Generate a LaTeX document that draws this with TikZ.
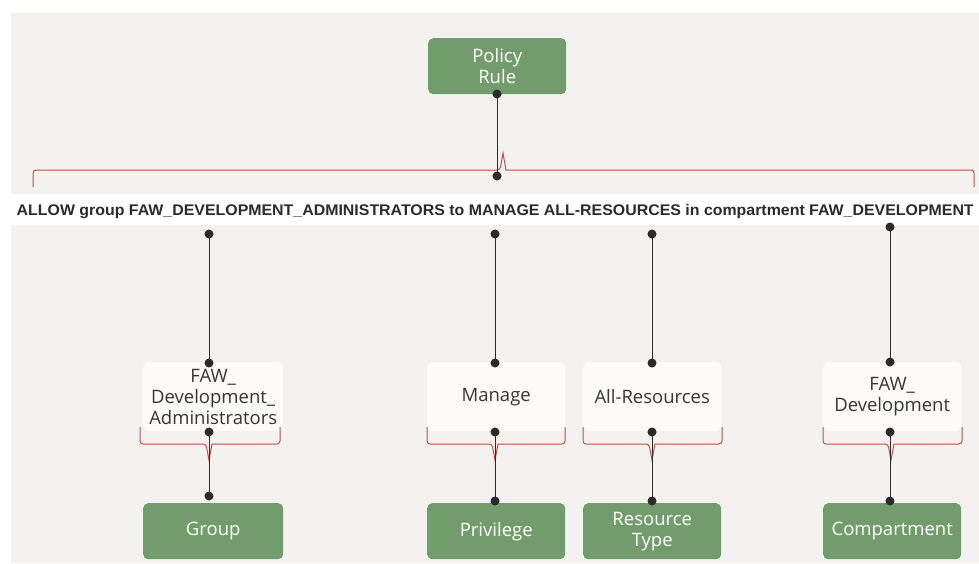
\documentclass[tikz,border=0pt]{standalone}
\usepackage{fontspec}
\setmainfont{Open Sans}
\newfontfamily\bannerfont{Liberation Sans}
\usepackage{graphicx}
\definecolor{bg}{HTML}{F3F2F0}
\definecolor{grn}{HTML}{739C6C}
\definecolor{brc}{HTML}{C0503F}
\definecolor{ink}{HTML}{2B2B2B}
\definecolor{cardtext}{HTML}{363636}
\definecolor{card}{HTML}{FCFBFA}
\begin{document}
\begin{tikzpicture}[x=1pt,y=-1pt,
  greenbox/.style={fill=grn, rounded corners=5pt, text=white, minimum height=56pt,
    align=center, font=\fontsize{18.5}{21}\selectfont, inner sep=0pt, anchor=north west},
  cardbox/.style={fill=card, rounded corners=6pt, text=cardtext, minimum height=69pt,
    align=center, font=\fontsize{18.5}{21}\selectfont, inner sep=0pt, anchor=north west},
  conn/.style={draw=ink, line width=1pt},
  dot/.style={fill=ink},
  brace/.style={draw=brc, line width=1pt}]
\useasboundingbox (0,0) rectangle (979,563);
\fill[white] (0,0) rectangle (979,563);
\fill[bg] (11,13) rectangle (979,563);

% top node
\node[greenbox, minimum width=138pt] (policy) at (428,38) {Policy\\Rule};

% banner
\node[fill=white, minimum width=968pt, minimum height=31pt, text height=11pt, text depth=0pt,
  inner sep=0pt, anchor=north west, text=ink] (rule) at (11,194)
  {\resizebox{957pt}{\height}{\bannerfont\fontsize{15.4}{18}\selectfont\bfseries ALLOW group FAW\_DEVELOPMENT\_ADMINISTRATORS to MANAGE ALL-RESOURCES in compartment FAW\_DEVELOPMENT}};

% cards
\node[cardbox, minimum width=140pt] (c1) at (143,362) {FAW\_\\Development\_\\Administrators};
\node[cardbox, minimum width=138pt] (c2) at (427,362) {Manage};
\node[cardbox, minimum width=138pt] (c3) at (583,362) {All-Resources};
\node[cardbox, minimum width=138pt] (c4) at (823,362) {FAW\_\\Development};

% bottom boxes
\node[greenbox, minimum width=140pt] (g1) at (143,503) {Group};
\node[greenbox, minimum width=138pt] (g2) at (427,503) {Privilege};
\node[greenbox, minimum width=138pt] (g3) at (583,503) {Resource\\Type};
\node[greenbox, minimum width=138pt] (g4) at (823,503) {Compartment};

% braces
\draw[brace] (33,187) [rounded corners=3pt] |- (500,170) [sharp corners] -- (503,153) -- (506,170) [rounded corners=3pt] -| (974,187);
\foreach \xa/\xc/\xb in {140/209/280, 427/495/565, 583/652/722, 823/891/962}{
  \draw[brace] (\xa,427) [rounded corners=3pt] |- (\xc-3,444) [sharp corners] -- (\xc,460) -- (\xc+3,444) [rounded corners=3pt] -| (\xb,427);
}

% connector points
\coordinate (p0) at (497,94);
\coordinate (p1) at (497,176);
\coordinate (a1) at (209,234); \coordinate (b1) at (209,363);
\coordinate (a2) at (495,234); \coordinate (b2) at (495,363);
\coordinate (a3) at (652,234); \coordinate (b3) at (652,363);
\coordinate (a4) at (890,227); \coordinate (b4) at (890,362);
\coordinate (d1) at (209,432); \coordinate (e1) at (209,496);
\coordinate (d2) at (495,432); \coordinate (e2) at (495,501);
\coordinate (d3) at (652,432); \coordinate (e3) at (652,501);
\coordinate (d4) at (890,432); \coordinate (e4) at (890,501);

\draw[conn] (p0) -- (p1);
\foreach \i in {1,2,3,4}{
  \draw[conn] (a\i) -- (b\i);
  \draw[conn] (d\i) -- (e\i);
}
\foreach \p in {p0,p1,a1,b1,a2,b2,a3,b3,a4,b4,d1,e1,d2,e2,d3,e3,d4,e4}{
  \fill[dot] (\p) circle (4.5pt);
}
\end{tikzpicture}
\end{document}
